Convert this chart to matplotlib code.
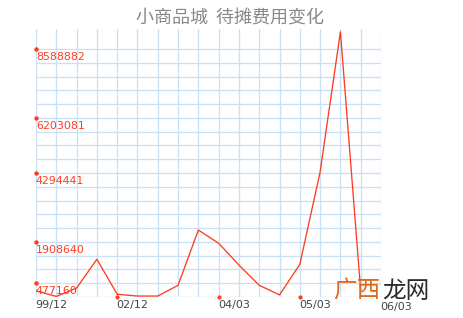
import matplotlib.pyplot as plt
import numpy as np

plt.rcParams['font.family'] = ['DejaVu Sans', 'Noto Sans CJK SC']

title = '小商品城  待摊费用变化'

# one value per report period, x is just the period index
values = [210000, 20000, 310000, 1307000, 95000, 33000, 33000, 405000,
          2319000, 1861000, 1107000, 405000, 72000, 1131000, 4328000,
          9185000, 210000]

step = 477160
y_ticks = [8588882, 6203081, 4294441, 1908640, 477160]
x_tick_pos = [0, 4, 9, 13, 17]
x_tick_labels = ['99/12', '02/12', '04/03', '05/03', '06/03']

red = '#ff3c1e'
grid_col = '#c9e0f7'

fig = plt.figure(figsize=(4.63, 3.18), dpi=100)
fig.patch.set_facecolor('white')
ax = fig.add_axes([36 / 463, 21 / 318, 345 / 463, 268 / 318])

n_cols = 17
ax.set_xlim(0, n_cols)
ax.set_ylim(0, 19.45 * step)

# the blue paper grid
for i in range(n_cols + 1):
    ax.axvline(i, color=grid_col, lw=0.95, zorder=1)
for j in range(19):
    ax.axhline(j * step, color=grid_col, lw=0.95, zorder=1)

ax.plot(np.arange(len(values)), values, color=red, lw=0.95, zorder=3)

# y labels: small dot on the left edge, number just under it
ax.plot(np.zeros(len(y_ticks)), y_ticks, 'o', ms=2.2, color=red,
        clip_on=False, zorder=4)
for v in y_ticks:
    ax.annotate(str(v), (0, v), xytext=(0, -2.2), textcoords='offset points',
                ha='left', va='top', color=red, fontsize=7.9, zorder=5)

# x labels
ax.plot(x_tick_pos[1:4], np.zeros(3), 'o', ms=2, color=red,
        clip_on=False, zorder=4)
for p, lab in zip(x_tick_pos, x_tick_labels):
    dy = -3.5 if p == n_cols else -2
    ax.annotate(lab, (p, 0), xytext=(-0.5, dy), textcoords='offset points',
                ha='left', va='top', color='#444444', fontsize=8, zorder=5,
                annotation_clip=False)

for s in ax.spines.values():
    s.set_visible(False)
ax.set_xticks([])
ax.set_yticks([])
ax.patch.set_alpha(0)

fig.text(230 / 463, 1 - 18.5 / 318, title, ha='center', va='center',
         color='#888888', fontsize=13, family=['Noto Sans CJK SC'])

# watermark in the lower right
fig.text(333 / 463, 20.5 / 318, '广西', ha='left', va='baseline',
         color='#e0681c', fontsize=17, family=['Noto Sans CJK SC'], zorder=10)
fig.text(382 / 463, 20.5 / 318, '龙网', ha='left', va='baseline',
         color='#2a2a2a', fontsize=17, family=['Noto Sans CJK SC'], zorder=10)

fig.savefig('out.png', dpi=100)
